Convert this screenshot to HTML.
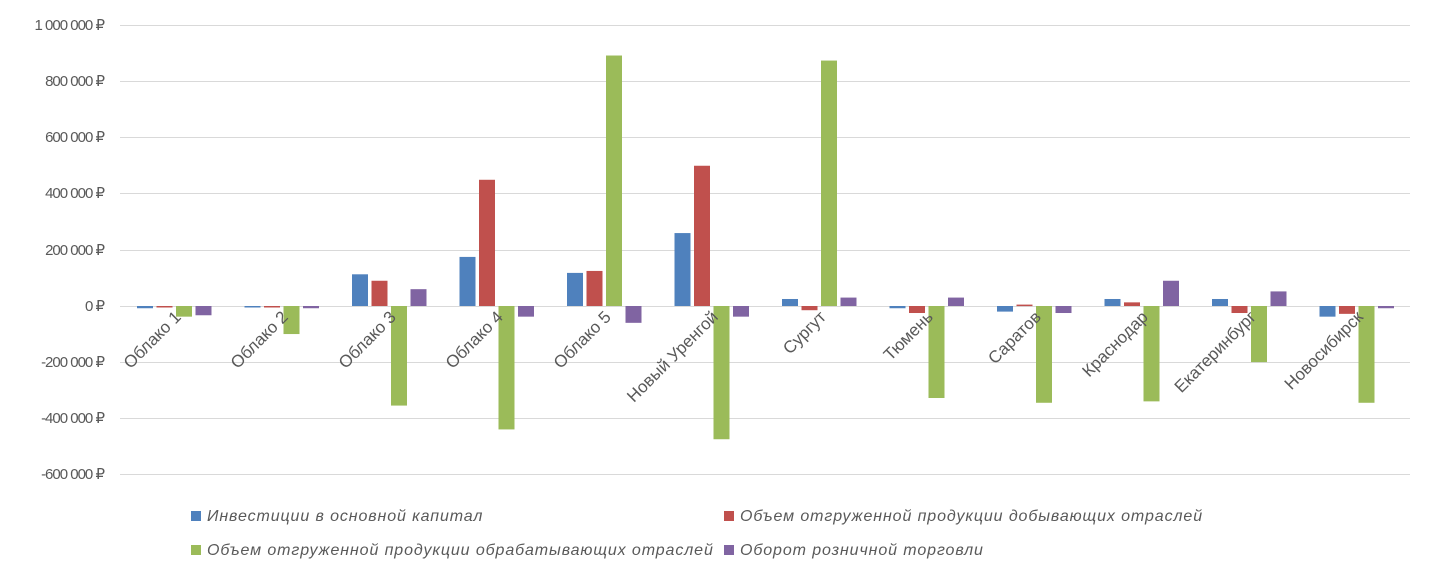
<!DOCTYPE html><html><head><meta charset="utf-8"><style>body{margin:0;background:#fff}svg{display:block}text{font-family:"Liberation Sans","DejaVu Sans",sans-serif;fill:#595959}</style></head><body>
<svg id="s" width="1437" height="581" xmlns="http://www.w3.org/2000/svg">
<g stroke="#d9d9d9" stroke-width="1">
<line x1="120" x2="1410" y1="25.5" y2="25.5"/><line x1="120" x2="1410" y1="81.5" y2="81.5"/><line x1="120" x2="1410" y1="137.5" y2="137.5"/><line x1="120" x2="1410" y1="193.5" y2="193.5"/><line x1="120" x2="1410" y1="250.5" y2="250.5"/><line x1="120" x2="1410" y1="306.5" y2="306.5"/><line x1="120" x2="1410" y1="362.5" y2="362.5"/><line x1="120" x2="1410" y1="418.5" y2="418.5"/><line x1="120" x2="1410" y1="474.5" y2="474.5"/>
</g>
<g font-size="15" text-anchor="end" letter-spacing="-1">
<text x="104" y="30">1 000 000 ₽</text><text x="104" y="86">800 000 ₽</text><text x="104" y="142">600 000 ₽</text><text x="104" y="198">400 000 ₽</text><text x="104" y="255">200 000 ₽</text><text x="104" y="311">0 ₽</text><text x="104" y="367">-200 000 ₽</text><text x="104" y="423">-400 000 ₽</text><text x="104" y="479">-600 000 ₽</text>
</g>
<g id="bars"></g>
<g font-size="17" text-anchor="end">
<text transform="translate(182,318) rotate(-45)">Облако 1</text>
<text transform="translate(289,318) rotate(-45)">Облако 2</text>
<text transform="translate(397,318) rotate(-45)">Облако 3</text>
<text transform="translate(504,318) rotate(-45)">Облако 4</text>
<text transform="translate(612,318) rotate(-45)">Облако 5</text>
<text transform="translate(719,318) rotate(-45)">Новый Уренгой</text>
<text transform="translate(827,318) rotate(-45)">Сургут</text>
<text transform="translate(934,318) rotate(-45)">Тюмень</text>
<text transform="translate(1042,318) rotate(-45)">Саратов</text>
<text transform="translate(1149,318) rotate(-45)">Краснодар</text>
<text transform="translate(1257,318) rotate(-45)">Екатеринбург</text>
<text transform="translate(1364,318) rotate(-45)">Новосибирск</text>
</g>
<g font-size="16" font-style="italic" letter-spacing="0.9">
<rect x="191" y="511" width="10" height="10" fill="#4F81BD"/><text x="207" y="521">Инвестиции в основной капитал</text>
<rect x="724" y="511" width="10" height="10" fill="#C0504D"/><text x="740" y="521">Объем отгруженной продукции добывающих отраслей</text>
<rect x="191" y="545" width="10" height="10" fill="#9BBB59"/><text x="207" y="555">Объем отгруженной продукции обрабатывающих отраслей</text>
<rect x="724" y="545" width="10" height="10" fill="#8064A2"/><text x="740" y="555">Оборот розничной торговли</text>
</g>
</svg>
<script>
var d=[[-8,-2,-38,-33],[-3,-3,-100,-8],[113,90,-355,60],[175,450,-440,-38],[118,125,893,-60],[260,500,-475,-38],[25,-15,875,30],[-8,-25,-328,30],[-20,5,-345,-25],[25,13,-340,90],[25,-25,-200,52],[-38,-28,-345,-8]];
var c=["#4F81BD","#C0504D","#9BBB59","#8064A2"],o=[-37,-17.5,2,21.5],h="";
d.forEach(function(r,i){var cx=174+i*107.5;r.forEach(function(v,j){var p=v*0.2805,y=p>0?306-p:306,hh=Math.max(Math.abs(p),1.5);h+='<rect x="'+(cx+o[j])+'" y="'+y+'" width="16" height="'+hh+'" fill="'+c[j]+'"/>';});});
document.getElementById("bars").innerHTML=h;
</script>
</body></html>
